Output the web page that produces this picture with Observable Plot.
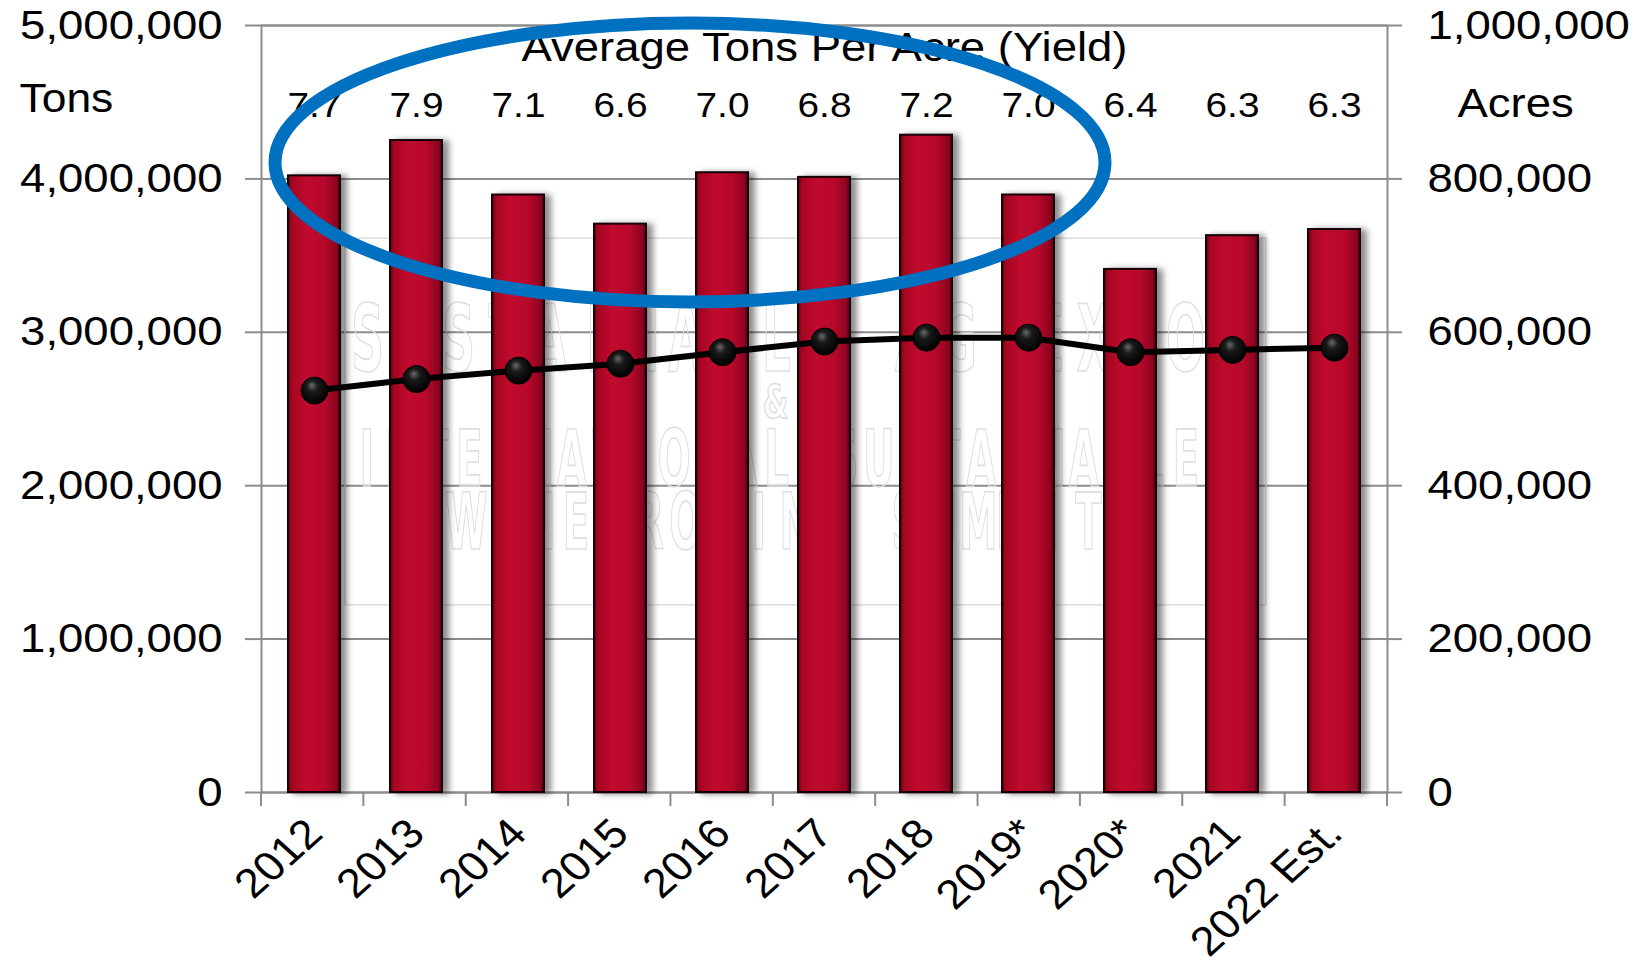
<!DOCTYPE html>
<html><head><meta charset="utf-8">
<script src="https://cdn.jsdelivr.net/npm/d3@7"></script>
<script src="https://cdn.jsdelivr.net/npm/@observablehq/plot@0.6"></script>
<style>
html,body{margin:0;padding:0;background:#fff;}
#chart{width:1640px;height:964px;overflow:hidden;}
</style></head><body><div id="chart"></div>
<script>
const years = ["2012","2013","2014","2015","2016","2017","2018","2019*","2020*","2021","2022 Est."];
const tons = [4020000, 4250000, 3895000, 3705000, 4040000, 4010000, 4285000, 3895000, 3410000, 3630000, 3670000];
const acres = [524000, 539000, 550000, 559000, 574000, 588000, 593000, 593000, 574000, 577000, 580000];
const yields = [7.7, 7.9, 7.1, 6.6, 7.0, 6.8, 7.2, 7.0, 6.4, 6.3, 6.3];
const tonsTicks = [0, 1000000, 2000000, 3000000, 4000000, 5000000];
const acresTicks = [0, 200000, 400000, 600000, 800000, 1000000];
const titleText = "Average Tons Per Acre (Yield)";
const leftLabel = "Tons";
const rightLabel = "Acres";
const watermarkLines = ["SUSTAINABLE AG EXPO", "&", "INTERNATIONAL SUSTAINABLE", "WINEGROWING SUMMIT"];
// annotation: ellipse around the yield labels, in data terms
const note = {from: "2012", to: "2020*", top: 5013000, bottom: 3195000};

const data = years.map((year, i) => ({year, tons: tons[i], acres: acres[i], yield: yields[i]}));
const tonsMax = tonsTicks[tonsTicks.length - 1], acresMax = acresTicks[acresTicks.length - 1];
const ratio = tonsMax / acresMax;
const fmt = d3.format(",");
const FONT = "'Liberation Sans', Arial, Helvetica, sans-serif";
const GRID = "#8c8c8c";
const STRETCH = 1.11;

function defsMark() {
  const g = d3.create("svg:g");
  const defs = g.append("defs");
  const bg = defs.append("linearGradient").attr("id", "barGrad").attr("x1", 0).attr("x2", 1).attr("y1", 0).attr("y2", 0);
  [[0, "#5c0012"], [0.07, "#a3061f"], [0.35, "#c10a2e"], [0.7, "#b6082a"], [0.93, "#8e0420"], [1, "#4a000e"]]
    .forEach(([o, c]) => bg.append("stop").attr("offset", o).attr("stop-color", c));
  const dg = defs.append("radialGradient").attr("id", "dotGrad").attr("cx", 0.45).attr("cy", 0.4).attr("r", 0.6).attr("fx", 0.4).attr("fy", 0.3);
  [[0, "#6a6a6a"], [0.35, "#1a1a1a"], [1, "#000"]]
    .forEach(([o, c]) => dg.append("stop").attr("offset", o).attr("stop-color", c));
  const hg = defs.append("linearGradient").attr("id", "hiGrad").attr("x1", 0).attr("x2", 1).attr("y1", 0).attr("y2", 0);
  [[0, "#b0102c"], [0.3, "#e2475f"], [0.7, "#e2475f"], [1, "#b0102c"]]
    .forEach(([o, c]) => hg.append("stop").attr("offset", o).attr("stop-color", c));
  return g.node();
}

// faint watermark behind the bars, laid out as fractions of the frame
function watermark(index, scales, values, dim) {
  const {width, height, marginLeft, marginRight, marginTop, marginBottom} = dim;
  const fw = width - marginLeft - marginRight, fh = height - marginTop - marginBottom;
  const X = f => marginLeft + f * fw, Y = f => marginTop + f * fh;
  const g = d3.create("svg:g").attr("class", "wm").attr("fill", "none").attr("stroke", "#dedede").attr("stroke-width", 1.6);
  g.append("rect").attr("x", X(0.0746)).attr("y", Y(0.278)).attr("width", X(0.8925) - X(0.0746)).attr("height", Y(0.756) - Y(0.278));
  const rows = [
    {t: watermarkLines[0], x0: 0.0746, x1: 0.841, base: 0.451, size: 92, sx: 0.55},
    {t: watermarkLines[1], x0: 0.44, x1: 0.474, base: 0.512, size: 46, sx: 0.7},
    {t: watermarkLines[2], x0: 0.079, x1: 0.8366, base: 0.601, size: 78, sx: 0.55},
    {t: watermarkLines[3], x0: 0.166, x1: 0.751, base: 0.683, size: 78, sx: 0.55}
  ];
  for (const r of rows) {
    const chars = Array.from(r.t);
    const x0 = X(r.x0), pitch = (X(r.x1) - x0) / chars.length;
    chars.forEach((c, i) => {
      if (c === " ") return;
      const cx = x0 + pitch * (i + 0.5);
      g.append("text").attr("x", cx).attr("y", Y(r.base)).attr("text-anchor", "middle")
        .attr("transform", `translate(${cx},0) scale(${r.sx},1) translate(${-cx},0)`)
        .attr("font-family", "'DejaVu Sans Condensed', 'DejaVu Sans', sans-serif").attr("font-weight", "bold")
        .attr("font-size", r.size).text(c);
    });
  }
  return g.node();
}

function boundaryTicks(index, scales) {
  const x = scales.x, y = scales.y;
  const [r0, r1] = x.range();
  const n = x.domain().length;
  const step = (r1 - r0) / n;
  const y0 = y(0);
  const g = d3.create("svg:g").attr("stroke", GRID).attr("stroke-width", 2);
  for (let i = 0; i <= n; i++) {
    g.append("line").attr("x1", r0 + i * step).attr("x2", r0 + i * step).attr("y1", y0).attr("y2", y0 + 14);
  }
  return g.node();
}

function noteEllipse(index, scales) {
  const x = scales.x, y = scales.y;
  const xl = x(note.from) - 13, xr = x(note.to) + 1;
  const yt = y(note.top), yb = y(note.bottom);
  return d3.create("svg:ellipse")
    .attr("cx", (xl + xr) / 2).attr("cy", (yt + yb) / 2)
    .attr("rx", (xr - xl) / 2).attr("ry", (yb - yt) / 2)
    .attr("fill", "none").attr("stroke", "#0070c0").attr("stroke-width", 13)
    .node();
}

const plot = Plot.plot({
  width: 1640, height: 964,
  marginLeft: 261, marginRight: 253, marginTop: 25, marginBottom: 172,
  style: {fontFamily: FONT, fontSize: "41px", background: "#fff", overflow: "visible"},
  x: {domain: years, paddingInner: 0.49, paddingOuter: 0.245, align: 0.5, label: null},
  y: {domain: [0, tonsMax], label: null},
  marks: [
    defsMark,
    Plot.gridY({ticks: tonsTicks, stroke: GRID, strokeOpacity: 1, strokeWidth: 2}),
    watermark,
    Plot.frame({stroke: GRID, strokeWidth: 2}),
    Plot.axisY({ticks: tonsTicks, anchor: "left", tickFormat: fmt, tickSize: 16, tickPadding: 23, stroke: GRID, strokeWidth: 2, fill: "#000", fontSize: 41, label: null}),
    Plot.axisY({ticks: acresTicks.map(a => a * ratio), anchor: "right", tickFormat: d => fmt(d / ratio), tickSize: 14, tickPadding: 26, stroke: GRID, strokeWidth: 2, fill: "#000", fontSize: 41, label: null}),
    Plot.axisX({tickSize: 0, tickRotate: -45, tickPadding: 34, fill: "#000", fontSize: 41, label: null}),
    boundaryTicks,
    Plot.barY(data, {x: "year", y: "tons", fill: "url(#barGrad)", stroke: "#140005", strokeWidth: 2}),
    Plot.tickY(data, {x: "year", y: "tons", stroke: "url(#hiGrad)", strokeWidth: 6, dy: 6, insetLeft: 3, insetRight: 3}),
    Plot.line(data, {x: "year", y: d => d.acres * ratio, stroke: "#000", strokeWidth: 6, strokeLinejoin: "round"}),
    Plot.dot(data, {x: "year", y: d => d.acres * ratio, r: 13.5, fill: "url(#dotGrad)", stroke: "#000", strokeWidth: 1}),
    Plot.text(data, {x: "year", text: d => d.yield.toFixed(1), frameAnchor: "top", lineAnchor: "middle", dy: 80, fontSize: 35, fill: "#000"}),
    Plot.text([titleText], {text: d => d, frameAnchor: "top", lineAnchor: "middle", dy: 22, fontSize: 41, fill: "#000"}),
    Plot.text([leftLabel], {text: d => d, frameAnchor: "top-left", lineAnchor: "middle", dx: -242, dy: 74, textAnchor: "start", fontSize: 40, fill: "#000"}),
    Plot.text([rightLabel], {text: d => d, frameAnchor: "top-right", lineAnchor: "middle", dx: 70, dy: 78, textAnchor: "start", fontSize: 41, fill: "#000"}),
    noteEllipse
  ]
});
const barG = plot.querySelector('g[aria-label="bar"]');
if (barG) barG.style.filter = "drop-shadow(6px 1px 3px rgba(0,0,0,0.45))";
// the reference type is slightly wide: stretch every label horizontally about its anchor
plot.querySelectorAll("text").forEach(t => {
  if (t.closest(".wm")) return;
  const tr = t.getAttribute("transform") || "";
  if (tr.includes("rotate(")) {
    t.setAttribute("transform", tr.replace("rotate(", `scale(${STRETCH},1) rotate(`));
    return;
  }
  const x = parseFloat(t.getAttribute("x")) || 0;
  t.setAttribute("transform", `${tr} translate(${x},0) scale(${STRETCH},1) translate(${-x},0)`.trim());
});
document.getElementById("chart").appendChild(plot);
</script></body></html>
